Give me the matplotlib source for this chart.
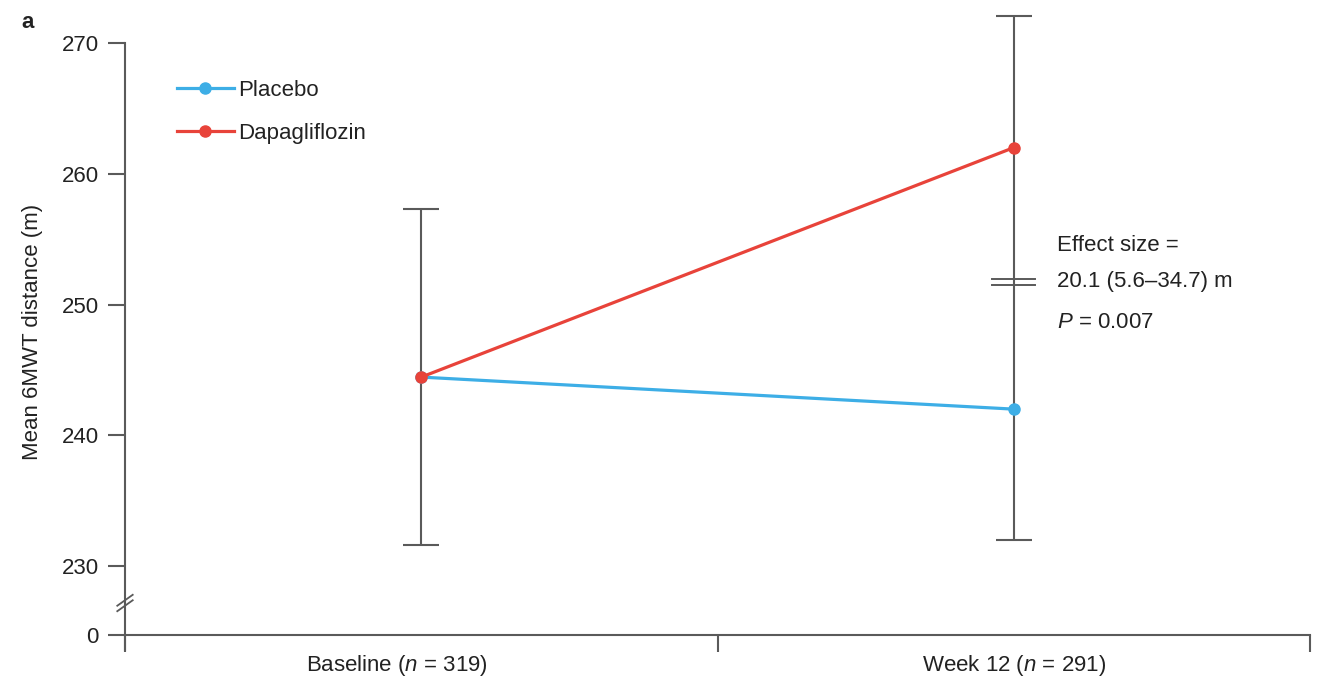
import numpy as np
import matplotlib
matplotlib.use("Agg")
import matplotlib.pyplot as plt
from matplotlib.scale import FuncScale
from matplotlib.transforms import offset_copy, blended_transform_factory, ScaledTranslation

plt.rcParams["font.family"] = ["Liberation Sans", "DejaVu Sans"]
plt.rcParams["mathtext.fontset"] = "custom"
plt.rcParams["mathtext.rm"] = "Liberation Sans"
plt.rcParams["mathtext.it"] = "Liberation Sans:italic"

# Data
timepoints = ["Baseline ($\\mathit{n}$ = 319)", "Week 12 ($\\mathit{n}$ = 291)"]
placebo_mean = [244.45, 242.0]
dapagliflozin_mean = [244.45, 262.0]
err_low = [231.6, 232.0]
err_high = [257.3, 272.1]
yticks = [0, 230, 240, 250, 260, 270]
effect_text = ["Effect size =", "20.1 (5.6–34.7) m", "$\\mathit{P}$ = 0.007"]

BLUE = "#3DAEE6"
RED = "#E8433A"
GREY = "#5A5A5A"
TXT = "#222222"
FS = 16

# Broken y axis: values below the threshold are squeezed into a short segment
THR = 228.0
Y0 = 224.73
SLOPE = (THR - Y0) / THR


def fwd(v):
    v = np.asarray(v, dtype=float)
    return np.where(v >= THR, v, Y0 + v * SLOPE)


def inv(u):
    u = np.asarray(u, dtype=float)
    return np.where(u >= THR, u, (u - Y0) / SLOPE)


fig = plt.figure(figsize=(13.19, 6.78), dpi=100)
ax = fig.add_axes([125 / 1319, 1 - 650 / 678, (1310 - 125) / 1319, (650 - 43) / 678])
ax.set_yscale(FuncScale(ax, (fwd, inv)))
ax.set_ylim(float(inv(Y0 - 1.15)), 270)
ax.set_xlim(0, 2)

xpos = np.array([0.5, 1.5])

# Error bars (shared across groups at each timepoint)
ax.vlines(xpos, err_low, err_high, color=GREY, lw=1.5, clip_on=False, zorder=2)
cap = 0.03
for x, lo, hi in zip(xpos, err_low, err_high):
    ax.hlines([lo, hi], x - cap, x + cap, color=GREY, lw=1.5, clip_on=False, zorder=2)

ax.plot(xpos, placebo_mean, color=BLUE, lw=2.3, marker="o", ms=8,
        label="Placebo", zorder=3, clip_on=False)
ax.plot(xpos, dapagliflozin_mean, color=RED, lw=2.3, marker="o", ms=8,
        label="Dapagliflozin", zorder=4, clip_on=False)

# Effect size marker between the week-12 means
mid = (placebo_mean[1] + dapagliflozin_mean[1]) / 2
for dy in (-1, -7):
    tr = offset_copy(ax.transData, fig=fig, x=0, y=dy, units="dots")
    ax.plot([xpos[1] - 0.036, xpos[1] + 0.036], [mid, mid], color=GREY,
            lw=1.4, transform=tr, zorder=2)

for txt, dy in zip(effect_text, (33, -3, -44)):
    ax.annotate(txt, xy=(xpos[1], mid), xytext=(43, dy), textcoords="offset pixels",
                ha="left", va="center", fontsize=FS, color=TXT)

# Axes styling
for s in ("top", "right"):
    ax.spines[s].set_visible(False)
ax.spines["bottom"].set_position(("data", 0))
for s in ("left", "bottom"):
    ax.spines[s].set_color(GREY)
    ax.spines[s].set_linewidth(1.5)

ax.set_yticks(yticks)
ax.set_yticklabels([str(t) for t in yticks])
ax.tick_params(axis="y", length=12, width=1.5, color=GREY, pad=7,
               labelsize=FS, labelcolor=TXT)

ax.set_xticks([0, 1, 2])
ax.set_xticklabels([])
ax.tick_params(axis="x", which="major", length=12, width=1.5, color=GREY)
ax.set_xticks(xpos, minor=True)
ax.set_xticklabels(timepoints, minor=True)
ax.tick_params(axis="x", which="minor", length=0, pad=13, labelsize=FS,
               labelcolor=TXT)
first = ax.get_xticklabels(minor=True)[0]
first.set_transform(first.get_transform() + ScaledTranslation(-24 / 100, 0, fig.dpi_scale_trans))

ax.set_ylabel("Mean 6MWT distance (m)", fontsize=FS, color=TXT)
ax.yaxis.set_label_coords(-0.069, (650 - 332) / (650 - 43))

# Axis break marks
bt = blended_transform_factory(ax.transAxes, ax.transAxes)
yb = (650 - 603) / (650 - 43)
for d in (-0.0045, 0.0045):
    ax.plot([-0.0065, 0.0065], [yb + d - 0.009, yb + d + 0.009], color=GREY,
            lw=1.3, transform=bt, clip_on=False)

leg = ax.legend(loc="upper left", bbox_to_anchor=(0.027, 0.972), frameon=False,
                fontsize=FS, handlelength=2.55, handletextpad=0.18, labelspacing=1.0)
for t in leg.get_texts():
    t.set_color(TXT)

fig.text(28 / 1319, 1 - 22 / 678, "a", fontsize=FS, fontweight="bold",
         ha="center", va="center", color=TXT)

fig.savefig("out.png", dpi=100)
